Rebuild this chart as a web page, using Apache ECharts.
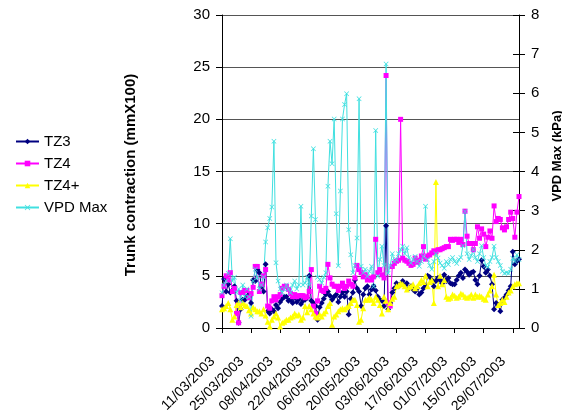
<!DOCTYPE html>
<html>
<head>
<meta charset="utf-8">
<script src="https://cdn.jsdelivr.net/npm/echarts@6/dist/echarts.min.js"></script>
<style>
html,body{margin:0;padding:0;background:#fff;}
#c{width:562px;height:410px;}
</style>
</head>
<body>
<div id="c"></div>
<script>
const dates = [
"11/03/2003","12/03/2003","13/03/2003","14/03/2003","15/03/2003","16/03/2003","17/03/2003","18/03/2003","19/03/2003","20/03/2003",
"21/03/2003","22/03/2003","23/03/2003","24/03/2003","25/03/2003","26/03/2003","27/03/2003","28/03/2003","29/03/2003","30/03/2003",
"31/03/2003","01/04/2003","02/04/2003","03/04/2003","04/04/2003","05/04/2003","06/04/2003","07/04/2003","08/04/2003","09/04/2003",
"10/04/2003","11/04/2003","12/04/2003","13/04/2003","14/04/2003","15/04/2003","16/04/2003","17/04/2003","18/04/2003","19/04/2003",
"20/04/2003","21/04/2003","22/04/2003","23/04/2003","24/04/2003","25/04/2003","26/04/2003","27/04/2003","28/04/2003","29/04/2003",
"30/04/2003","01/05/2003","02/05/2003","03/05/2003","04/05/2003","05/05/2003","06/05/2003","07/05/2003","08/05/2003","09/05/2003",
"10/05/2003","11/05/2003","12/05/2003","13/05/2003","14/05/2003","15/05/2003","16/05/2003","17/05/2003","18/05/2003","19/05/2003",
"20/05/2003","21/05/2003","22/05/2003","23/05/2003","24/05/2003","25/05/2003","26/05/2003","27/05/2003","28/05/2003","29/05/2003",
"30/05/2003","31/05/2003","01/06/2003","02/06/2003","03/06/2003","04/06/2003","05/06/2003","06/06/2003","07/06/2003","08/06/2003",
"09/06/2003","10/06/2003","11/06/2003","12/06/2003","13/06/2003","14/06/2003","15/06/2003","16/06/2003","17/06/2003","18/06/2003",
"19/06/2003","20/06/2003","21/06/2003","22/06/2003","23/06/2003","24/06/2003","25/06/2003","26/06/2003","27/06/2003","28/06/2003",
"29/06/2003","30/06/2003","01/07/2003","02/07/2003","03/07/2003","04/07/2003","05/07/2003","06/07/2003","07/07/2003","08/07/2003",
"09/07/2003","10/07/2003","11/07/2003","12/07/2003","13/07/2003","14/07/2003","15/07/2003","16/07/2003","17/07/2003","18/07/2003",
"19/07/2003","20/07/2003","21/07/2003","22/07/2003","23/07/2003","24/07/2003","25/07/2003","26/07/2003","27/07/2003","28/07/2003",
"29/07/2003","30/07/2003","31/07/2003","01/08/2003"
];

const tz3 = [
2.1,4.7,3.5,4.2,3.4,3.6,4.0,2.6,0.5,1.8,
2.7,2.7,3.0,3.2,2.4,4.6,4.5,5.6,5.3,4.0,
3.5,6.1,1.6,1.4,1.8,1.6,2.2,1.9,2.5,2.8,
3.0,3.0,2.6,2.7,2.4,2.9,2.5,2.8,2.3,2.6,
2.7,2.9,5.0,2.6,2.4,2.1,0.8,2.0,2.4,2.8,
3.2,3.5,3.1,2.7,3.0,3.2,2.5,3.0,3.4,3.0,
3.5,1.3,2.8,3.4,4.6,3.8,3.5,2.1,3.2,3.8,
4.0,3.2,3.7,4.0,3.6,3.0,2.7,2.6,2.1,9.8,
1.8,2.4,3.4,3.8,4.3,4.0,4.2,4.5,4.1,4.3,
3.8,4.0,3.7,3.5,3.8,3.2,3.4,3.8,4.0,5.0,
4.9,4.6,4.0,4.5,4.8,4.6,4.3,5.1,4.5,4.8,
4.3,4.2,4.2,4.6,5.0,5.3,4.8,5.6,5.4,5.1,
5.3,5.4,4.6,4.2,5.0,6.5,5.9,5.3,5.6,5.0,
4.2,1.8,2.4,2.2,1.6,2.7,2.9,3.2,3.6,4.0,
7.3,6.1,6.4,6.6
];

const tz4 = [
3.1,4.0,5.0,4.6,5.3,3.5,3.8,1.4,0.5,3.4,
3.4,3.6,3.6,2.9,3.3,3.9,5.9,5.9,3.5,4.2,
5.0,5.6,2.1,1.9,2.6,3.0,2.7,3.0,3.2,3.8,
4.0,4.0,3.7,3.3,3.0,3.2,3.0,3.1,3.1,3.1,
2.9,3.0,3.5,5.6,2.1,1.4,2.6,4.0,3.6,3.5,
3.8,6.1,4.8,4.2,4.0,4.0,3.6,4.0,4.3,3.8,
4.0,4.5,4.2,4.0,4.8,6.0,5.6,5.3,4.9,5.1,
4.6,4.8,4.6,4.9,8.5,5.3,5.6,5.1,4.8,24.2,
2.4,2.1,5.9,6.2,6.4,6.5,20.0,6.7,6.5,6.4,
6.2,6.0,6.1,6.7,6.3,6.5,6.9,7.8,6.6,6.9,
7.0,7.2,7.4,7.3,7.5,7.5,7.6,7.7,7.8,7.8,
8.5,8.4,8.5,8.5,8.2,8.5,8.0,11.2,8.8,8.1,
8.1,7.5,8.1,9.7,8.6,9.5,9.0,7.8,8.7,9.3,
8.6,11.7,10.2,10.5,10.4,9.6,9.4,9.7,10.4,11.1,
10.5,8.7,11.1,12.6
];

const tz4plus = [
1.8,1.9,2.1,2.4,1.8,0.8,1.1,2.2,2.4,2.0,
2.4,2.2,2.1,1.7,1.4,2.0,1.8,1.6,1.6,1.4,
1.8,1.2,0.6,0.15,0.8,1.1,1.4,1.0,0.15,0.5,
0.6,0.8,0.8,1.0,1.1,1.4,1.2,1.3,0.8,1.0,
2.1,1.5,2.1,1.8,1.4,1.1,1.0,1.3,1.1,1.4,
1.6,2.1,2.4,0.3,1.1,1.3,1.6,1.8,1.9,1.8,
2.0,2.1,2.4,2.7,2.7,2.2,0.6,0.8,1.9,2.7,
2.7,2.9,2.7,2.4,3.0,2.7,2.2,1.4,3.0,2.6,
1.8,2.4,2.8,3.0,4.0,4.1,4.3,4.2,4.0,3.7,
3.9,4.0,4.2,3.8,4.0,4.3,4.6,4.4,5.0,4.0,
4.4,4.6,2.4,14.0,4.0,5.0,4.2,4.6,3.0,2.8,
2.9,3.2,3.1,2.9,3.0,3.3,3.2,3.0,2.9,3.0,
3.2,2.9,3.2,3.0,3.1,3.0,2.8,2.7,3.2,3.6,
4.0,5.1,3.2,2.2,2.4,2.7,2.5,3.0,3.4,3.6,
4.0,4.2,4.3,4.3
];

const vpdMax = [
0.9,1.1,1.2,1.4,2.28,1.2,1.3,0.9,1.0,0.7,
1.1,0.8,1.0,0.8,0.3,1.2,1.5,1.3,1.0,1.1,
1.3,2.2,2.56,2.8,3.09,4.77,1.67,1.2,1.0,0.9,
1.0,1.1,1.0,0.9,1.1,1.2,1.0,1.1,3.11,1.1,
1.15,1.3,1.1,2.86,4.58,2.77,1.3,1.24,1.15,1.3,
1.41,3.62,4.77,4.2,5.34,2.92,1.59,3.5,5.34,5.71,
5.99,2.51,1.87,1.41,1.6,2.3,5.86,1.58,1.41,1.5,
1.32,1.45,1.58,1.07,5.05,1.32,1.75,2.09,1.6,6.75,
1.4,1.6,1.9,1.7,1.75,1.9,2.0,2.09,1.9,2.05,
1.8,1.66,1.75,1.83,1.7,1.58,1.7,1.83,3.11,1.75,
1.6,1.5,1.7,1.9,1.79,1.66,1.6,1.53,1.7,1.62,
1.75,1.8,1.7,1.65,1.75,1.8,2.1,2.98,1.9,1.75,
1.85,2.0,1.8,1.7,1.9,2.1,1.8,1.6,1.55,1.7,
1.8,2.09,1.8,1.7,1.6,1.45,1.4,1.42,1.4,1.5,
1.78,1.7,1.87,1.75
];

const seriesNames = ["TZ3", "TZ4", "TZ4+", "VPD Max"];
const leftAxisName = "Trunk contraction (mmX100)";
const rightAxisName = "VPD Max (kPa)";

const FONT = "'Liberation Sans', Arial, sans-serif";
const xSymbol = 'path://M0,1L1,0L5,4L9,0L10,1L6,5L10,9L9,10L5,6L1,10L0,9L4,5Z';

const chart = echarts.init(document.getElementById('c'), null, {renderer: 'canvas'});
chart.setOption({
  animation: false,
  backgroundColor: '#ffffff',
  textStyle: {fontFamily: FONT, color: '#000'},
  legend: {
    orient: 'vertical',
    left: 10,
    top: 129,
    itemWidth: 23,
    itemHeight: 7,
    itemGap: 7,
    textStyle: {fontSize: 15, color: '#000', fontFamily: FONT, lineHeight: 15},
    data: seriesNames
  },
  grid: {left: 222, right: 43, top: 15, bottom: 82, containLabel: false, outerBoundsMode: 'none'},
  xAxis: {
    type: 'category',
    data: dates,
    boundaryGap: false,
    axisLine: {lineStyle: {color: '#000', width: 1}},
    axisTick: {show: true, interval: 13, length: 5, lineStyle: {color: '#000'}},
    axisLabel: {interval: 13, rotate: 45, fontSize: 14, color: '#000', fontFamily: FONT, margin: 22, padding: [0, 13, 0, 0]},
    splitLine: {show: false}
  },
  yAxis: [
    {
      type: 'value', min: 0, max: 30, interval: 5, position: 'left',
      name: leftAxisName, nameLocation: 'middle', nameGap: 84, nameMoveOverlap: false,
      nameTextStyle: {fontWeight: 'bold', fontSize: 15, color: '#000', fontFamily: FONT, padding: [0, 7, 0, 0]},
      axisLine: {show: true, lineStyle: {color: '#000'}},
      axisTick: {show: true, length: 6, lineStyle: {color: '#000'}},
      axisLabel: {fontSize: 15, color: '#000', fontFamily: FONT, margin: 12},
      splitLine: {show: true, lineStyle: {color: '#555', width: 1}}
    },
    {
      type: 'value', min: 0, max: 8, interval: 1, position: 'right',
      name: rightAxisName, nameLocation: 'middle', nameGap: 32, nameMoveOverlap: false,
      nameTextStyle: {fontWeight: 'bold', fontSize: 13, color: '#000', fontFamily: FONT, padding: [0, 0, 0, 31]},
      axisLine: {show: true, lineStyle: {color: '#000'}},
      axisTick: {show: true, length: 6, lineStyle: {color: '#000'}},
      axisLabel: {fontSize: 15, color: '#000', fontFamily: FONT, margin: 12},
      splitLine: {show: false}
    },
    {
      type: 'value', min: 0, max: 8, interval: 1, position: 'right',
      axisLine: {show: false},
      axisTick: {show: true, inside: true, length: 6, lineStyle: {color: '#000'}},
      axisLabel: {show: false},
      splitLine: {show: false}
    }
  ],
  series: [
    {
      name: seriesNames[0], type: 'line', yAxisIndex: 0, data: tz3,
      symbol: 'diamond', symbolSize: 6, showAllSymbol: true,
      lineStyle: {width: 1, color: '#000080'}, itemStyle: {color: '#000080'}
    },
    {
      name: seriesNames[1], type: 'line', yAxisIndex: 0, data: tz4,
      symbol: 'rect', symbolSize: 5, showAllSymbol: true,
      lineStyle: {width: 1, color: '#FF00FF'}, itemStyle: {color: '#FF00FF'}
    },
    {
      name: seriesNames[2], type: 'line', yAxisIndex: 0, data: tz4plus,
      symbol: 'triangle', symbolSize: 6, showAllSymbol: true,
      lineStyle: {width: 1, color: '#FFFF00'}, itemStyle: {color: '#FFFF00'}
    },
    {
      name: seriesNames[3], type: 'line', yAxisIndex: 1, data: vpdMax,
      symbol: xSymbol, symbolSize: 5, showAllSymbol: true,
      lineStyle: {width: 1, color: '#40E0E0'}, itemStyle: {color: '#40E0E0'}
    }
  ]
});
</script>
</body>
</html>
